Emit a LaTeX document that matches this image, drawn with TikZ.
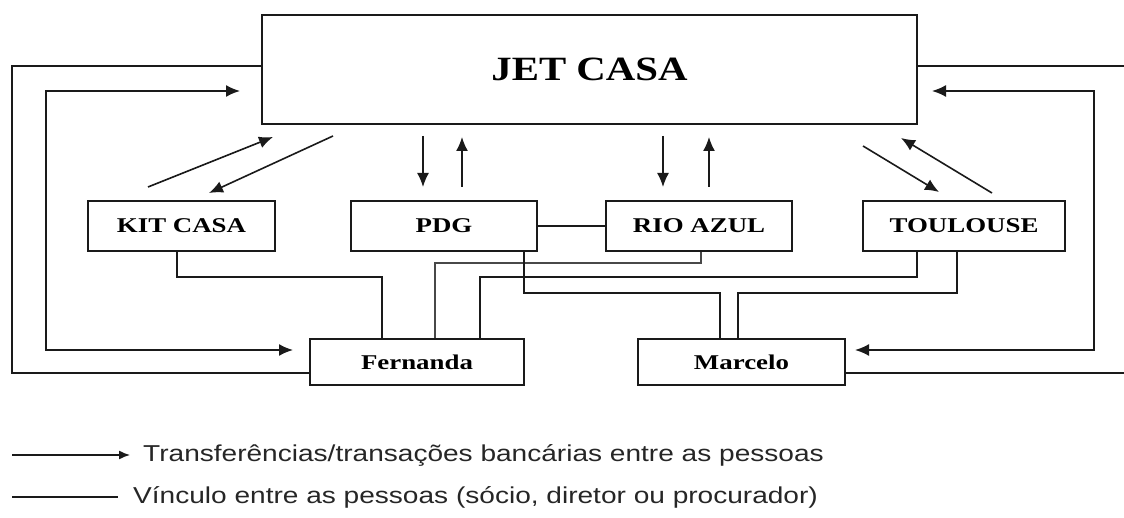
\documentclass[tikz,border=0pt]{standalone}
\usepackage{fontspec}
\usepackage{graphicx}
\setmainfont{Liberation Serif}
\newfontfamily\legfont{Liberation Sans}
\usetikzlibrary{arrows.meta}
\definecolor{ink}{HTML}{1A1A1A}
\definecolor{legink}{HTML}{262626}
\tikzset{
  box/.style={draw=ink, line width=2pt, inner sep=0pt, fill=white},
  lbl/.style={font=\fontsize{21}{21}\selectfont\bfseries},
  link/.style={draw=ink, line width=1.8pt},
  thinlink/.style={draw=ink!80, line width=1.3pt},
  flow/.style={draw=ink, line width=1.6pt, -{Latex[length=14pt,width=12pt]}},
  dflow/.style={draw=ink, line width=1.7pt, {Latex[length=14pt,width=12pt]}-{Latex[length=14pt,width=12pt]}},
}
\begin{document}
\begin{tikzpicture}[x=1pt,y=-1pt]
\useasboundingbox (0,0) rectangle (1124,518);
% boxes
\node[box, minimum width=655pt, minimum height=109pt] (jet) at (589.5,69.5)
  {\fontsize{34}{34}\selectfont\bfseries\scalebox{1.2}[1]{JET CASA}};
\node[box, lbl, minimum width=187pt, minimum height=50pt] (kit) at (181.5,226) {\scalebox{1.28}[1]{KIT CASA}};
\node[box, lbl, minimum width=186pt, minimum height=50pt] (pdg) at (444,226) {\scalebox{1.28}[1]{PDG}};
\node[box, lbl, minimum width=186pt, minimum height=50pt] (rio) at (699,226) {\scalebox{1.28}[1]{RIO AZUL}};
\node[box, lbl, minimum width=202pt, minimum height=50pt] (tou) at (964,226) {\scalebox{1.28}[1]{TOULOUSE}};
\node[box, lbl, minimum width=214pt, minimum height=46pt] (fer) at (417,362) {\scalebox{1.28}[1]{Fernanda}};
\node[box, lbl, minimum width=207pt, minimum height=46pt] (mar) at (741.5,362) {\scalebox{1.28}[1]{Marcelo}};

% arrow end coordinates
\coordinate (jl) at (240,91);
\coordinate (fl) at (293,350);
\coordinate (jr) at (932,91);
\coordinate (mr) at (855,350);
\coordinate (ka1) at (148,187);
\coordinate (ka2) at (273,137);
\coordinate (ka3) at (333,136);
\coordinate (ka4) at (209,193);
\coordinate (pa1) at (423,136);
\coordinate (pa2) at (423,187);
\coordinate (pa3) at (462,187);
\coordinate (pa4) at (462,137);
\coordinate (ra1) at (663,136);
\coordinate (ra2) at (663,187);
\coordinate (ra3) at (709,187);
\coordinate (ra4) at (709,137);
\coordinate (ta1) at (863,146);
\coordinate (ta2) at (939,192);
\coordinate (ta3) at (992,193);
\coordinate (ta4) at (901,138);
\coordinate (er1) at (1124,66);
\coordinate (er2) at (1124,373);

% outer links
\draw[link] ([yshift=3.5pt]jet.west) -| (12,373) -- ([yshift=-11pt]fer.west);
\draw[link] ([yshift=3.5pt]jet.east) -- (er1);
\draw[link] ([yshift=-11pt]mar.east) -- (er2);

% long transfer arrows
\draw[dflow] (jl) -| (46,350) -- (fl);
\draw[dflow] (jr) -| (1094,350) -- (mr);

% short transfer arrows
\draw[flow] (ka1) -- (ka2);
\draw[flow] (ka3) -- (ka4);
\draw[flow] (pa1) -- (pa2);
\draw[flow] (pa3) -- (pa4);
\draw[flow] (ra1) -- (ra2);
\draw[flow] (ra3) -- (ra4);
\draw[flow] (ta1) -- (ta2);
\draw[flow] (ta3) -- (ta4);

% links between people / companies
\draw[link] (pdg.east) -- (rio.west);
\draw[link] ([xshift=-4.5pt]kit.south) |- (382,277) -- ([xshift=-35pt]fer.north);
\draw[thinlink] ([xshift=2pt]rio.south) |- (435,263) -- ([xshift=18pt]fer.north);
\draw[link] ([xshift=-47pt]tou.south) |- (480,277) -- ([xshift=63pt]fer.north);
\draw[link] ([xshift=80pt]pdg.south) |- (720,293) -- ([xshift=-21.5pt]mar.north);
\draw[link] ([xshift=-7pt]tou.south) |- (738,293) -- ([xshift=-3.5pt]mar.north);

% legend
\coordinate (l1a) at (12,455);
\coordinate (l1b) at (130,455);
\coordinate (l2a) at (12,497);
\coordinate (l2b) at (118,497);
\draw[draw=ink, line width=1.4pt, -{Latex[length=11pt,width=9pt]}] (l1a) -- (l1b);
\draw[draw=ink, line width=1.8pt] (l2a) -- (l2b);
\node[anchor=west, inner sep=0pt, text=legink, font=\legfont\fontsize{23}{23}\selectfont] (leg1) at (143,455)
  {\scalebox{1.22}[1]{Transferências/transações bancárias entre as pessoas}};
\node[anchor=west, inner sep=0pt, text=legink, font=\legfont\fontsize{23}{23}\selectfont] (leg2) at (133,497)
  {\scalebox{1.22}[1]{Vínculo entre as pessoas (sócio, diretor ou procurador)}};
\end{tikzpicture}
\end{document}
